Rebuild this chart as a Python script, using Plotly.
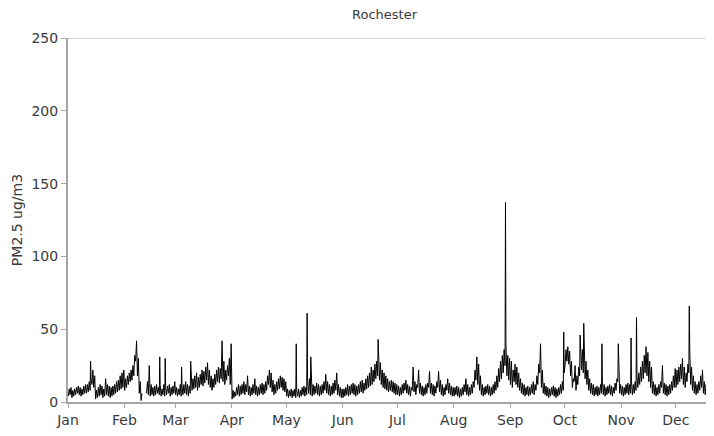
import pandas as pd
import plotly.graph_objects as go

# ---- data (PM2.5 ug/m3, daily low / daily high) ----
month_labels = ["Jan", "Feb", "Mar", "Apr", "May", "Jun",
                "Jul", "Aug", "Sep", "Oct", "Nov", "Dec"]
month_starts = ["2021-01-01", "2021-02-01", "2021-03-01", "2021-04-01",
                "2021-05-01", "2021-06-01", "2021-07-01", "2021-08-01",
                "2021-09-01", "2021-10-01", "2021-11-01", "2021-12-01"]
y_ticks = [0, 50, 100, 150, 200, 250]

jan_low = [4, 5, 3, 4, 5, 6, 5, 4, 5, 6, 6, 7, 8, 12, 10, 2, 3, 4, 5, 3, 4, 5, 4, 3, 4, 5, 6, 7, 8, 9, 10]
jan_high = [9, 10, 8, 9, 10, 11, 10, 9, 11, 12, 12, 14, 16, 22, 18, 8, 10, 12, 11, 9, 16, 12, 11, 10, 11, 12, 14, 15, 18, 20, 22]
feb_low = [8, 10, 12, 14, 15, 18, 28, 18, 6, 1, None, None, 6, 5, 4, 5, 4, 5, 6, 5, 4, 5, 4, 5, 6, 4, 5, 6]
feb_high = [16, 18, 20, 22, 25, 32, 42, 30, 14, 6, None, None, 14, 25, 12, 10, 11, 12, 10, 12, 9, 12, 10, 11, 12, 10, 11, 14]
mar_low = [5, 4, 5, 4, 5, 6, 5, 4, 6, 8, 9, 10, 8, 10, 12, 11, 13, 15, 12, 10, 8, 10, 12, 14, 13, 16, 14, 12, 15, 18, 12]
mar_high = [10, 9, 12, 11, 12, 14, 12, 11, 14, 16, 18, 20, 17, 19, 22, 21, 24, 27, 22, 18, 16, 19, 22, 24, 23, 42, 28, 22, 25, 30, 40]
apr_low = [2, 3, 4, 5, 4, 5, 6, 5, 7, 5, 4, 5, 6, 5, 4, 5, 6, 5, 6, 8, 12, 10, 7, 5, 6, 8, 9, 10, 8, 7]
apr_high = [8, 7, 10, 12, 11, 12, 14, 12, 18, 11, 10, 12, 16, 11, 10, 12, 13, 12, 14, 18, 22, 20, 15, 12, 14, 16, 18, 17, 16, 14]
may_low = [4, 3, 4, 3, 4, 3, 4, 3, 4, 5, 4, 5, 6, 5, 4, 5, 6, 5, 4, 5, 6, 8, 6, 5, 4, 5, 6, 8, 5, 4, 3]
may_high = [9, 8, 9, 8, 9, 8, 9, 8, 10, 11, 10, 14, 16, 18, 12, 11, 13, 12, 11, 12, 14, 19, 14, 12, 11, 13, 15, 20, 12, 10, 9]
jun_low = [3, 4, 5, 4, 5, 6, 5, 4, 5, 6, 7, 6, 8, 9, 10, 11, 12, 14, 16, 18, 15, 12, 10, 9, 8, 7, 8, 7, 6, 5]
jun_high = [9, 10, 12, 11, 12, 13, 12, 11, 12, 14, 15, 13, 16, 18, 20, 24, 22, 26, 28, 31, 27, 22, 20, 18, 16, 14, 15, 14, 13, 12]
jul_low = [5, 4, 5, 6, 8, 6, 5, 4, 8, 7, 5, 10, 6, 5, 4, 5, 6, 10, 6, 5, 4, 6, 10, 7, 5, 4, 5, 8, 6, 5, 4]
jul_high = [11, 10, 12, 13, 15, 12, 11, 10, 24, 14, 12, 22, 13, 11, 10, 12, 13, 21, 13, 12, 11, 14, 21, 15, 12, 10, 12, 16, 13, 11, 10]
aug_low = [4, 5, 4, 3, 4, 5, 7, 5, 4, 5, 6, 10, 15, 12, 8, 5, 4, 5, 6, 5, 4, 5, 6, 8, 10, 14, 16, 20, 25, 18, 15]
aug_high = [10, 11, 10, 9, 10, 12, 16, 12, 10, 12, 14, 22, 31, 26, 18, 12, 10, 11, 12, 11, 10, 12, 14, 18, 23, 28, 32, 36, 40, 32, 30]
sep_low = [12, 10, 14, 12, 10, 8, 6, 5, 4, 5, 4, 5, 6, 5, 8, 12, 20, 10, 6, 5, 4, 3, 4, 5, 4, 3, 4, 5, 6, 8]
sep_high = [28, 22, 26, 24, 20, 16, 13, 12, 10, 11, 10, 12, 14, 12, 18, 26, 40, 22, 13, 11, 10, 9, 10, 11, 10, 9, 10, 12, 14, 20]
oct_low = [25, 28, 26, 18, 10, 14, 8, 12, 18, 22, 20, 16, 12, 8, 6, 5, 4, 5, 4, 5, 6, 5, 4, 5, 6, 5, 4, 6, 8, 14, 6]
oct_high = [36, 38, 35, 28, 16, 25, 18, 24, 32, 36, 34, 28, 22, 16, 13, 12, 10, 11, 10, 12, 14, 12, 10, 11, 12, 11, 10, 13, 16, 29, 12]
nov_low = [5, 4, 5, 6, 5, 6, 5, 6, 8, 10, 12, 14, 16, 20, 18, 14, 10, 6, 5, 4, 5, 6, 10, 6, 5, 4, 5, 6, 8, 10]
nov_high = [11, 10, 12, 13, 12, 14, 12, 14, 18, 20, 24, 28, 32, 38, 34, 28, 24, 14, 12, 10, 12, 14, 25, 13, 12, 11, 12, 14, 18, 23]
dec_low = [10, 12, 14, 16, 12, 10, 14, 20, 12, 8, 6, 5, 6, 8, 10, 6, 5, 4, 5, 6, 5, 4]
dec_high = [22, 24, 26, 30, 24, 20, 26, 37, 24, 18, 14, 12, 14, 18, 22, 14, 12, 11, 12, 14, 12, 11]

# short single-hour spikes
spike_dates = ["2021-01-13", "2021-02-20", "2021-02-23", "2021-03-04", "2021-03-09",
               "2021-05-06", "2021-05-12", "2021-05-14", "2021-06-20", "2021-08-29",
               "2021-09-30", "2021-10-09", "2021-10-11", "2021-10-21", "2021-10-30",
               "2021-11-06", "2021-11-09", "2021-12-08"]
spike_values = [28, 31, 30, 24, 28, 40, 61, 31, 43, 137, 48, 46, 54, 40, 40, 44, 58, 66]

daily_low = (jan_low + feb_low + mar_low + apr_low + may_low + jun_low +
             jul_low + aug_low + sep_low + oct_low + nov_low + dec_low)
daily_high = (jan_high + feb_high + mar_high + apr_high + may_high + jun_high +
              jul_high + aug_high + sep_high + oct_high + nov_high + dec_high)

start = pd.Timestamp("2021-01-01")
rows = []
for i, (lo, hi) in enumerate(zip(daily_low, daily_high)):
    d = start + pd.Timedelta(days=i)
    rows.append((d + pd.Timedelta(hours=4), lo))
    rows.append((d + pd.Timedelta(hours=16), hi))
for ds, v in zip(spike_dates, spike_values):
    rows.append((pd.Timestamp(ds) + pd.Timedelta(hours=10), v))
rows.sort(key=lambda r: r[0])
times = [r[0] for r in rows]
values = [r[1] for r in rows]

axis_grey = "#a6a6a6"
text_col = "#3a3a3a"
font_fam = "DejaVu Sans, Verdana, sans-serif"

fig = go.Figure()
fig.add_trace(go.Scatter(
    x=times, y=values, mode="lines",
    line=dict(color="#000000", width=1),
    connectgaps=False, showlegend=False, hoverinfo="skip",
))

# page body has an 8px margin: figure 706x428 placed at (8, 8)
fig.update_layout(
    width=706, height=428,
    margin=dict(l=60, r=0, t=30, b=34, autoexpand=False),
    paper_bgcolor="white", plot_bgcolor="white",
    font=dict(family=font_fam, size=14, color=text_col),
    title=dict(text="Rochester", x=0.49, xanchor="center", xref="paper",
               y=0.985, yanchor="middle", yref="container",
               font=dict(family=font_fam, size=13, color=text_col)),
    showlegend=False,
)
fig.update_xaxes(
    type="date", automargin=False,
    range=["2021-01-01", "2021-12-22"],
    tickmode="array", tickvals=month_starts, ticktext=month_labels,
    showgrid=False, zeroline=False,
    showline=True, linecolor=axis_grey, linewidth=2,
    ticks="outside", ticklen=4, tickcolor=axis_grey, tickwidth=1,
    tickfont=dict(size=14, color=text_col),
)
fig.update_yaxes(
    automargin=False,
    range=[0, 250], tickmode="array", tickvals=y_ticks,
    showgrid=False, zeroline=False,
    showline=True, linecolor=axis_grey, linewidth=2,
    ticks="outside", ticklen=5, tickcolor=axis_grey, tickwidth=1,
    tickfont=dict(size=14, color=text_col),
    title=dict(text="PM2.5 ug/m3", font=dict(size=14, color=text_col), standoff=6),
)
fig.add_shape(type="line", xref="paper", yref="y", x0=0, x1=1, y0=250, y1=250,
              line=dict(color="#c8c8c8", width=1.5), layer="below")

fig.write_html("out.html")
